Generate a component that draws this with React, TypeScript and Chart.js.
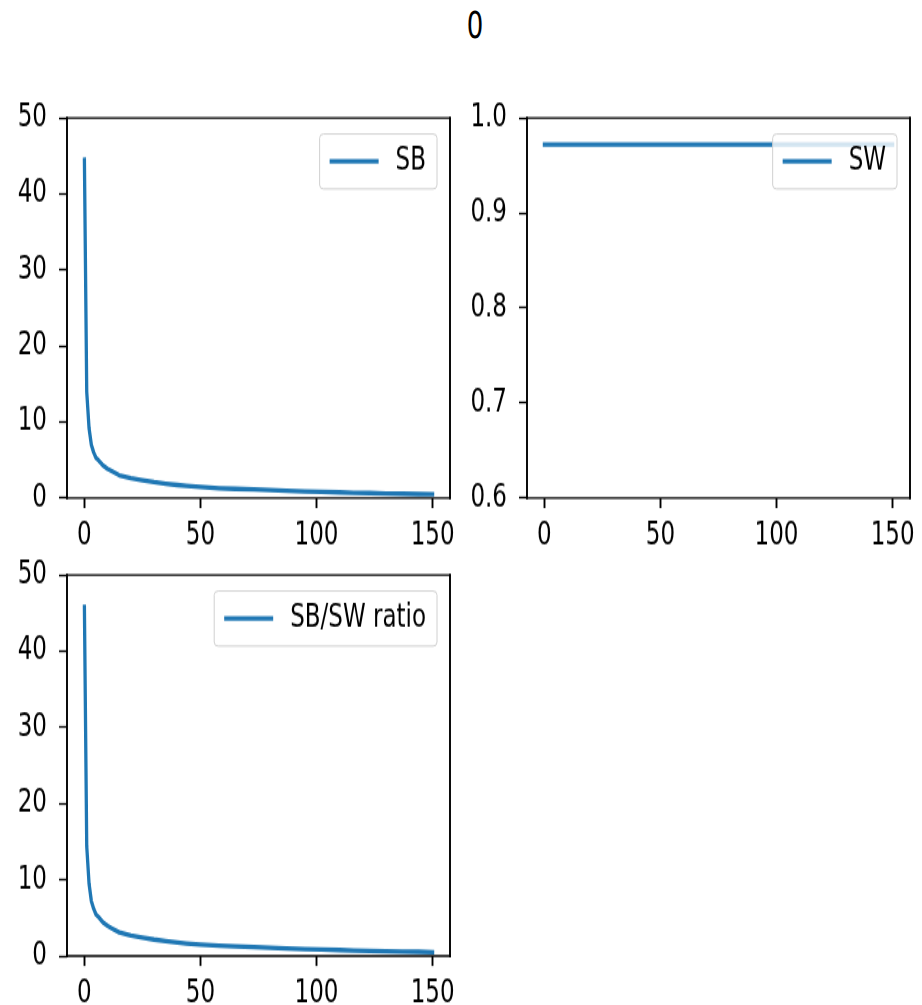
import React, { useEffect, useRef } from 'react';
import { Chart, registerables } from 'chart.js';

Chart.register(...registerables);

// ---------- data ----------
const titleText = '0';
const xSteps = [0, 1, 2, 3, 4, 5, 6, 8, 10, 12, 15, 20, 25, 30, 35, 40, 44, 50, 58, 65, 73, 80, 87, 95, 102, 110, 116, 123, 130, 137, 144, 150];
const sbValues = [44.5, 14, 9.2, 7.0, 6.0, 5.3, 5.0, 4.3, 3.85, 3.5, 3.0, 2.6, 2.35, 2.1, 1.9, 1.72, 1.6, 1.45, 1.3, 1.22, 1.14, 1.05, 0.96, 0.88, 0.83, 0.76, 0.7, 0.66, 0.61, 0.57, 0.53, 0.49];
const ratioValues = [45.8, 14.4, 9.5, 7.2, 6.2, 5.45, 5.15, 4.4, 3.95, 3.6, 3.1, 2.67, 2.42, 2.16, 1.95, 1.77, 1.65, 1.49, 1.34, 1.26, 1.17, 1.08, 0.99, 0.91, 0.85, 0.78, 0.72, 0.68, 0.63, 0.59, 0.55, 0.5];
const swX = [0, 150];
const swValues = [0.972, 0.972];
const xTicks = [0, 50, 100, 150];
const sbTicks = [0, 10, 20, 30, 40, 50];
const swTicks = [0.6, 0.7, 0.8, 0.9, 1.0];
const ratioTicks = [0, 10, 20, 30, 40, 50];

// ---------- style ----------
const S = 1.4; // vertical stretch of the reference
const FONT = "'DejaVu Sans', sans-serif";
const FS = 23;
const BLUE = '#1f77b4';

type Area = { l: number; t: number; r: number; b: number };
type PanelCfg = {
  left: number; top: number; w: number; h: number; area: Area;
  label: string; xs: number[]; ys: number[]; ticks: number[];
  min: number; max: number; fmt: (v: number) => string;
};

const framePlugin = {
  id: 'mplFrame',
  afterDatasetsDraw(chart: any) {
    const { ctx, chartArea: a } = chart;
    ctx.save();
    ctx.strokeStyle = '#000';
    ctx.lineCap = 'square';
    ctx.lineWidth = 1.9;
    ctx.beginPath();
    ctx.moveTo(a.left, a.top); ctx.lineTo(a.left, a.bottom);
    ctx.moveTo(a.right, a.top); ctx.lineTo(a.right, a.bottom);
    ctx.stroke();
    ctx.lineWidth = 1.9 / S;
    ctx.beginPath();
    ctx.moveTo(a.left, a.top); ctx.lineTo(a.right, a.top);
    ctx.moveTo(a.left, a.bottom); ctx.lineTo(a.right, a.bottom);
    ctx.stroke();
    ctx.restore();
  },
};

function legendPlugin(label: string) {
  return {
    id: 'mplLegend',
    afterDatasetsDraw(chart: any) {
      const { ctx, chartArea: a } = chart;
      ctx.save();
      ctx.font = `${FS}px ${FONT}`;
      const tw = ctx.measureText(label).width;
      const padL = 10, handle = 49, gap = 17, padR = 11;
      const w = padL + handle + gap + tw + padR;
      const h = 55 / S;
      const right = a.right - 13;
      const top = a.top + 16 / S;
      const x = right - w;
      const r = 4;
      ctx.beginPath();
      ctx.moveTo(x + r, top);
      ctx.lineTo(x + w - r, top);
      ctx.quadraticCurveTo(x + w, top, x + w, top + r / S);
      ctx.lineTo(x + w, top + h - r / S);
      ctx.quadraticCurveTo(x + w, top + h, x + w - r, top + h);
      ctx.lineTo(x + r, top + h);
      ctx.quadraticCurveTo(x, top + h, x, top + h - r / S);
      ctx.lineTo(x, top + r / S);
      ctx.quadraticCurveTo(x, top, x + r, top);
      ctx.closePath();
      ctx.fillStyle = 'rgba(255,255,255,0.8)';
      ctx.fill();
      ctx.strokeStyle = '#d0d0d0';
      ctx.lineWidth = 1;
      ctx.stroke();
      const cy = top + h / 2;
      ctx.strokeStyle = BLUE;
      ctx.lineWidth = 3.3;
      ctx.lineCap = 'butt';
      ctx.beginPath();
      ctx.moveTo(x + padL, cy);
      ctx.lineTo(x + padL + handle, cy);
      ctx.stroke();
      ctx.fillStyle = '#000';
      ctx.textBaseline = 'middle';
      ctx.textAlign = 'left';
      ctx.fillText(label, x + padL + handle + gap, cy);
      ctx.restore();
    },
  };
}

function makeConfig(c: PanelCfg): any {
  const padTop = (c.area.t - c.top) / S;
  const padRight = c.left + c.w - c.area.r;
  const xAxisH = (c.top + c.h - c.area.b) / S;
  const yAxisW = c.area.l - c.left;
  return {
    type: 'line',
    data: {
      datasets: [
        {
          label: c.label,
          data: c.xs.map((x, i) => ({ x, y: c.ys[i] })),
          borderColor: BLUE,
          backgroundColor: BLUE,
          borderWidth: 3.3,
          pointRadius: 0,
          pointHoverRadius: 0,
          fill: false,
          tension: 0,
          borderCapStyle: 'square',
          borderJoinStyle: 'round',
        },
      ],
    },
    options: {
      responsive: false,
      animation: false,
      devicePixelRatio: 1,
      events: [],
      layout: { padding: { top: padTop, right: padRight, left: 0, bottom: 0 } },
      plugins: {
        legend: { display: false },
        tooltip: { enabled: false },
        title: { display: false },
      },
      scales: {
        x: {
          type: 'linear',
          min: -7.5,
          max: 157.5,
          afterBuildTicks: (s: any) => { s.ticks = xTicks.map((v) => ({ value: v })); },
          afterFit: (s: any) => {
            s.height = xAxisH;
            s.paddingLeft = 0;
            s.paddingRight = 0;
          },
          grid: { drawOnChartArea: false, drawTicks: true, tickLength: 10 / S, tickWidth: 1.9, tickColor: '#000' },
          border: { display: false },
          ticks: {
            color: '#000',
            font: { family: FONT, size: FS, lineHeight: 1.0 },
            padding: 8.5,
            maxRotation: 0,
            minRotation: 0,
            autoSkip: false,
            callback: (v: any) => String(v),
          },
        },
        y: {
          type: 'linear',
          min: c.min,
          max: c.max,
          afterBuildTicks: (s: any) => { s.ticks = c.ticks.map((v) => ({ value: v })); },
          afterFit: (s: any) => {
            s.width = yAxisW;
            s.paddingTop = 0;
            s.paddingBottom = 0;
          },
          grid: { drawOnChartArea: false, drawTicks: true, tickLength: 8, tickWidth: 1.9 / S, tickColor: '#000' },
          border: { display: false },
          ticks: {
            color: '#000',
            font: { family: FONT, size: FS, lineHeight: 1.0 },
            padding: 12,
            autoSkip: false,
            callback: (v: any) => c.fmt(Number(v)),
          },
        },
      },
    },
    plugins: [framePlugin, legendPlugin(c.label)],
  };
}

function Panel({ cfg }: { cfg: PanelCfg }) {
  const ref = useRef<HTMLCanvasElement | null>(null);
  useEffect(() => {
    if (!ref.current) return;
    const chart = new Chart(ref.current, makeConfig(cfg));
    return () => chart.destroy();
  }, []);
  return (
    <canvas
      ref={ref}
      width={cfg.w}
      height={Math.round(cfg.h / S)}
      style={{ position: 'absolute', left: cfg.left + 'px', top: cfg.top + 'px', width: cfg.w + 'px', height: cfg.h + 'px' }}
    />
  );
}

const panels: PanelCfg[] = [
  {
    left: 0, top: 80, w: 460, h: 470, area: { l: 67, t: 118, r: 450, b: 498 },
    label: 'SB', xs: xSteps, ys: sbValues, ticks: sbTicks, min: 0, max: 50, fmt: (v) => String(v),
  },
  {
    left: 460, top: 80, w: 462, h: 470, area: { l: 527, t: 118, r: 910, b: 498 },
    label: 'SW', xs: swX, ys: swValues, ticks: swTicks, min: 0.6, max: 1.0, fmt: (v) => v.toFixed(1),
  },
  {
    left: 0, top: 537, w: 460, h: 468, area: { l: 67, t: 575, r: 450, b: 956 },
    label: 'SB/SW ratio', xs: xSteps, ys: ratioValues, ticks: ratioTicks, min: 0, max: 50, fmt: (v) => String(v),
  },
];

export default function App() {
  return (
    <div style={{ position: 'absolute', left: 0, top: 0, width: '922px', height: '1005px', overflow: 'hidden', background: '#fff' }}>
      <div
        style={{
          position: 'absolute', left: '425px', top: '6.7px', width: '100px', textAlign: 'center',
          fontFamily: FONT, fontSize: '26px', lineHeight: '26px', color: '#000',
          transform: `scaleY(${S})`, transformOrigin: 'top',
        }}
      >
        {titleText}
      </div>
      {panels.map((p, i) => (
        <Panel key={i} cfg={p} />
      ))}
    </div>
  );
}
